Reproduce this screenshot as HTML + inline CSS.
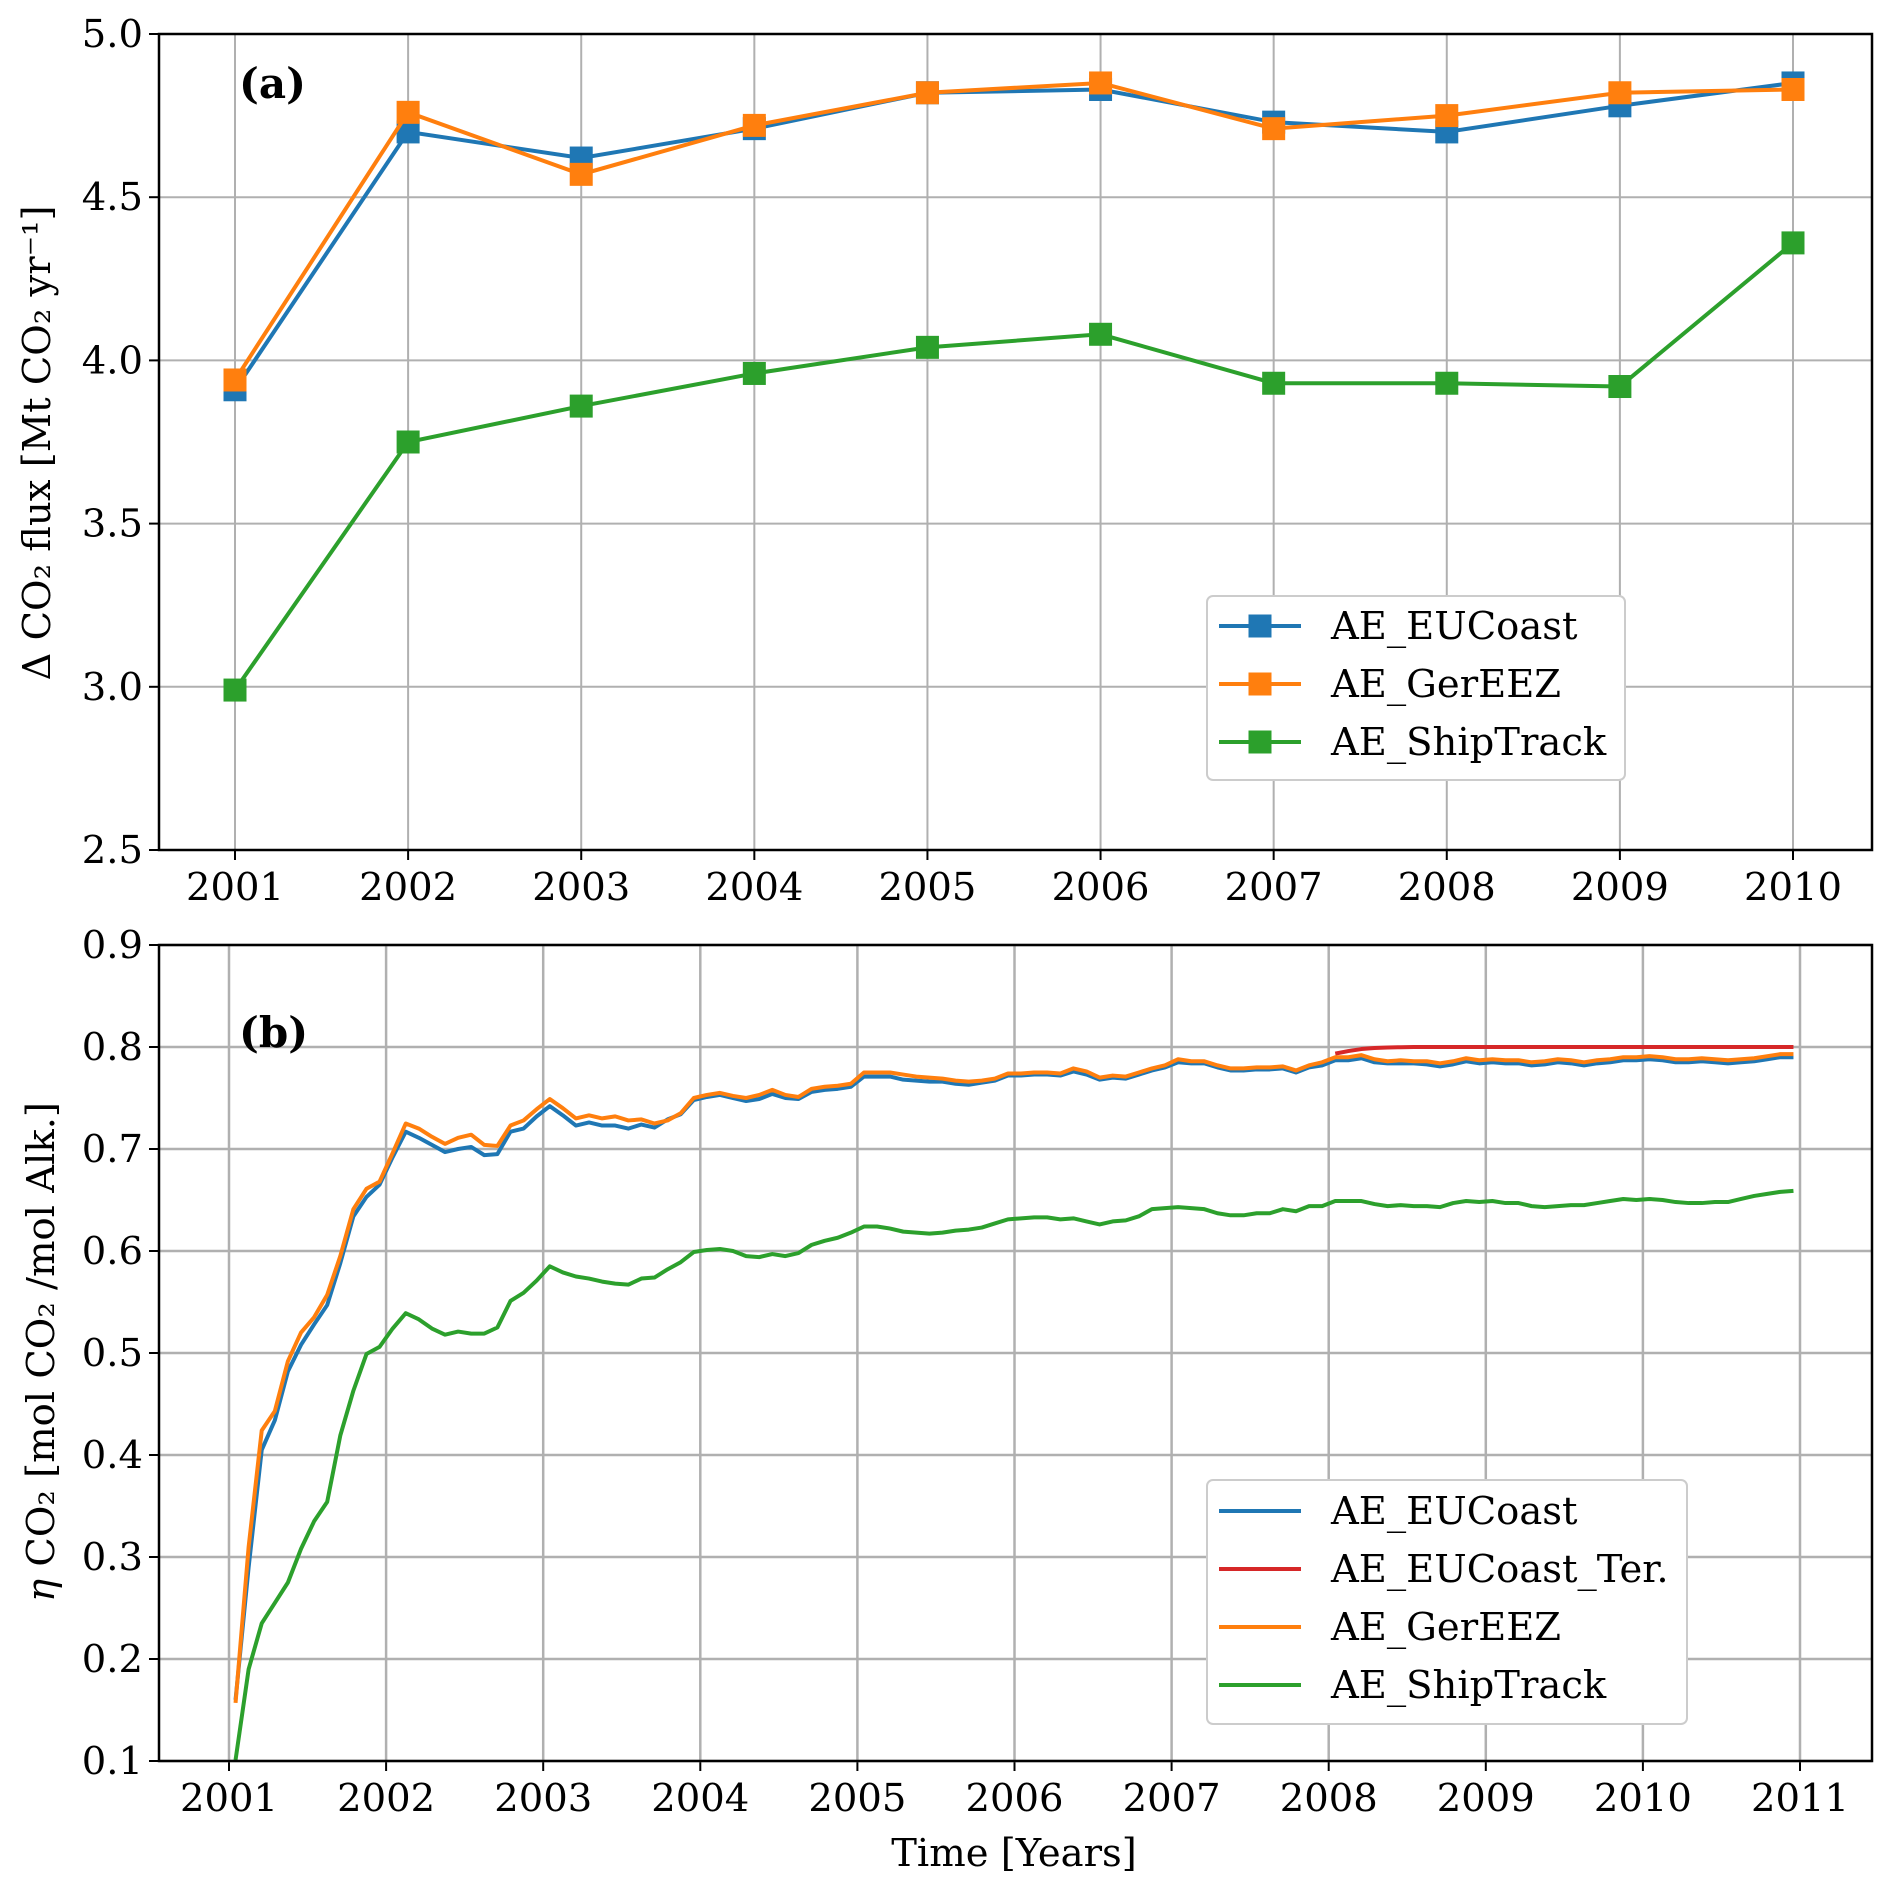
<!DOCTYPE html>
<html><head><meta charset="utf-8"><style>
html,body{margin:0;padding:0;background:#fff;}
svg{display:block;font-family:"DejaVu Serif","Liberation Serif",serif;}
</style></head><body>
<svg id="fig" width="1892" height="1887" viewBox="0 0 1892 1887" xmlns="http://www.w3.org/2000/svg">
<rect width="1892" height="1887" fill="#fff"/>
<g id="pa"></g>
<g id="pb"></g>
</svg>
<script>
// ---------- Panel (a) data ----------
const yearsA = [2001,2002,2003,2004,2005,2006,2007,2008,2009,2010];
const aEUCoast = [3.91,4.70,4.62,4.71,4.82,4.83,4.73,4.70,4.78,4.85];
const aGerEEZ = [3.94,4.76,4.57,4.72,4.82,4.85,4.71,4.75,4.82,4.83];
const aShipTrack = [2.99,3.75,3.86,3.96,4.04,4.08,3.93,3.93,3.92,4.36];
const ticksYA = ["2.5","3.0","3.5","4.0","4.5","5.0"];
const ticksXA = ["2001","2002","2003","2004","2005","2006","2007","2008","2009","2010"];
// ---------- Panel (b) data (monthly, 2001-2010) ----------
const bGerEEZ = [0.157,0.31,0.424,0.443,0.492,0.520,0.535,0.557,0.595,0.641,0.661,0.668,
0.696,0.725,0.720,0.712,0.705,0.711,0.714,0.704,0.703,0.723,0.728,0.739,
0.749,0.740,0.730,0.733,0.730,0.732,0.728,0.729,0.725,0.728,0.735,0.750,
0.753,0.755,0.752,0.750,0.753,0.758,0.753,0.751,0.759,0.761,0.762,0.764,
0.775,0.775,0.775,0.773,0.771,0.770,0.769,0.767,0.766,0.767,0.769,0.774,
0.774,0.775,0.775,0.774,0.779,0.776,0.770,0.772,0.771,0.775,0.779,0.782,
0.788,0.786,0.786,0.782,0.779,0.779,0.780,0.780,0.781,0.777,0.782,0.785,
0.790,0.790,0.792,0.788,0.786,0.787,0.786,0.786,0.784,0.786,0.789,0.787,
0.788,0.787,0.787,0.785,0.786,0.788,0.787,0.785,0.787,0.788,0.790,0.790,
0.791,0.790,0.788,0.788,0.789,0.788,0.787,0.788,0.789,0.791,0.793,0.793];
const bEUCoast = [0.16,0.29,0.405,0.434,0.482,0.508,0.528,0.547,0.588,0.634,0.653,0.665,
0.692,0.717,0.711,0.704,0.697,0.700,0.702,0.694,0.695,0.717,0.720,0.732,
0.742,0.733,0.723,0.726,0.723,0.723,0.720,0.724,0.721,0.729,0.734,0.748,
0.751,0.753,0.750,0.747,0.749,0.754,0.750,0.749,0.756,0.758,0.759,0.761,
0.771,0.771,0.771,0.768,0.767,0.766,0.766,0.764,0.763,0.765,0.767,0.772,
0.772,0.773,0.773,0.772,0.776,0.773,0.768,0.770,0.769,0.773,0.777,0.780,
0.785,0.784,0.784,0.780,0.777,0.777,0.778,0.778,0.779,0.775,0.780,0.782,
0.787,0.787,0.789,0.785,0.784,0.784,0.784,0.783,0.781,0.783,0.786,0.784,
0.785,0.784,0.784,0.782,0.783,0.785,0.784,0.782,0.784,0.785,0.787,0.787,
0.788,0.787,0.785,0.785,0.786,0.785,0.784,0.785,0.786,0.788,0.790,0.790];
const bShipTrack = [0.101,0.190,0.235,0.255,0.275,0.308,0.335,0.354,0.419,0.463,0.499,0.506,
0.524,0.539,0.533,0.524,0.518,0.521,0.519,0.519,0.525,0.551,0.559,0.571,
0.585,0.579,0.575,0.573,0.570,0.568,0.567,0.573,0.574,0.582,0.589,0.599,
0.601,0.602,0.600,0.595,0.594,0.597,0.595,0.598,0.606,0.610,0.613,0.618,
0.624,0.624,0.622,0.619,0.618,0.617,0.618,0.620,0.621,0.623,0.627,0.631,
0.632,0.633,0.633,0.631,0.632,0.629,0.626,0.629,0.630,0.634,0.641,0.642,
0.643,0.642,0.641,0.637,0.635,0.635,0.637,0.637,0.641,0.639,0.644,0.644,
0.649,0.649,0.649,0.646,0.644,0.645,0.644,0.644,0.643,0.647,0.649,0.648,
0.649,0.647,0.647,0.644,0.643,0.644,0.645,0.645,0.647,0.649,0.651,0.650,
0.651,0.650,0.648,0.647,0.647,0.648,0.648,0.651,0.654,0.656,0.658,0.659];
const bTerStart = 84;
const bEUCoastTer = [0.7935,0.796,0.798,0.799,0.7995,0.7998,0.800,0.800,0.800,0.800,0.800,0.800,
0.800,0.800,0.800,0.800,0.800,0.800,0.800,0.800,0.800,0.800,0.800,0.800,
0.800,0.800,0.800,0.800,0.800,0.800,0.800,0.800,0.800,0.800,0.800,0.800];
const ticksYB = ["0.1","0.2","0.3","0.4","0.5","0.6","0.7","0.8","0.9"];
const ticksXB = ["2001","2002","2003","2004","2005","2006","2007","2008","2009","2010","2011"];

const NS="http://www.w3.org/2000/svg";
const C={blue:"#1f77b4",orange:"#ff7f0e",green:"#2ca02c",red:"#d62728"};
const FS=38.5, LW=4;
function mk(tag,attrs,parent){const e=document.createElementNS(NS,tag);for(const k in attrs)e.setAttribute(k,attrs[k]);parent.appendChild(e);return e;}

// ---- Panel A axes ----
const A={l:159,r:1872,t:34,b:850};
const xA=v=>235+(v-2001)*(1793-235)/9;
const yA=v=>A.b-(v-2.5)*(A.b-A.t)/2.5;
const pa=document.getElementById('pa');
ticksXA.forEach(s=>{const v=+s;
 const g=mk('line',{x1:xA(v),x2:xA(v),y1:A.t,y2:A.b,stroke:"#b0b0b0","stroke-width":2},pa);
 
 
 mk('line',{x1:xA(v),x2:xA(v),y1:A.b,y2:A.b+10,stroke:"#000","stroke-width":2},pa);
 const t=mk('text',{x:xA(v),y:A.b+50,"text-anchor":"middle","font-size":FS},pa);t.textContent=s;
 
 
});
ticksYA.forEach(s=>{const v=+s;
 const g=mk('line',{x1:A.l,x2:A.r,y1:yA(v),y2:yA(v),stroke:"#b0b0b0","stroke-width":2},pa);
 
 
 mk('line',{x1:A.l-10,x2:A.l,y1:yA(v),y2:yA(v),stroke:"#000","stroke-width":2},pa);
 const t=mk('text',{x:A.l-16,y:yA(v)+13,"text-anchor":"end","font-size":FS},pa);t.textContent=s;
 
 
});
function seriesA(vals,col,name){
 const l=mk('polyline',{points:vals.map((v,i)=>xA(yearsA[i])+","+yA(v)).join(" "),fill:"none",stroke:col,"stroke-width":LW},pa);
 
 
 vals.forEach((v,i)=>{const m=mk('rect',{x:xA(yearsA[i])-11.5,y:yA(v)-11.5,width:23,height:23,fill:col},pa);
  
  });
}
seriesA(aEUCoast,C.blue,'eucoast');
seriesA(aGerEEZ,C.orange,'gereez');
seriesA(aShipTrack,C.green,'shiptrack');
mk('rect',{x:A.l,y:A.t,width:A.r-A.l,height:A.b-A.t,fill:"none",stroke:"#000","stroke-width":2.5},pa);
let t=mk('text',{x:239,y:98,"font-size":42,"font-weight":"bold"},pa);t.textContent="(a)";


t=mk('text',{x:0,y:0,"font-size":FS,"text-anchor":"middle",transform:"translate(50,443) rotate(-90)"},pa);
t.textContent="Δ CO₂ flux [Mt CO₂ yr⁻¹]";


// legend A
let lg=mk('g',{},pa);


mk('rect',{x:1207,y:596,width:418,height:184,rx:6,fill:"#fff",stroke:"#ccc","stroke-width":2},lg);
[["AE_EUCoast",C.blue],["AE_GerEEZ",C.orange],["AE_ShipTrack",C.green]].forEach((e,i)=>{
 const y=626+i*58;
 const ge=mk('g',{},lg);
 
 
 mk('line',{x1:1219,x2:1301,y1:y,y2:y,stroke:e[1],"stroke-width":LW},ge);
 mk('rect',{x:1248.5,y:y-11.5,width:23,height:23,fill:e[1]},ge);
 const tt=mk('text',{x:1331,y:y+13,"font-size":FS},ge);tt.textContent=e[0];
});

// ---- Panel B axes ----
const B={l:159,r:1872,t:945,b:1761};
const xB=v=>229+(v-2001)*(1800-229)/10;
const yB=v=>B.b-(v-0.1)*(B.b-B.t)/0.8;
const tm=i=>2001+(i+0.5)/12;
const pb=document.getElementById('pb');
ticksXB.forEach(s=>{const v=+s;
 const g=mk('line',{x1:xB(v),x2:xB(v),y1:B.t,y2:B.b,stroke:"#b0b0b0","stroke-width":2.5},pb);
 
 
 mk('line',{x1:xB(v),x2:xB(v),y1:B.b,y2:B.b+10,stroke:"#000","stroke-width":2},pb);
 const t=mk('text',{x:xB(v),y:B.b+50,"text-anchor":"middle","font-size":FS},pb);t.textContent=s;
 
 
});
ticksYB.forEach(s=>{const v=+s;
 const g=mk('line',{x1:B.l,x2:B.r,y1:yB(v),y2:yB(v),stroke:"#b0b0b0","stroke-width":2.5},pb);
 
 
 mk('line',{x1:B.l-10,x2:B.l,y1:yB(v),y2:yB(v),stroke:"#000","stroke-width":2},pb);
 const t=mk('text',{x:B.l-16,y:yB(v)+13,"text-anchor":"end","font-size":FS},pb);t.textContent=s;
 
 
});
function seriesB(vals,off,col,name){
 const l=mk('polyline',{points:vals.map((v,i)=>xB(tm(i+off))+","+yB(v)).join(" "),fill:"none",stroke:col,"stroke-width":LW,"stroke-linejoin":"round"},pb);
 
 
}
seriesB(bEUCoast,0,C.blue,'eucoast');
seriesB(bEUCoastTer,bTerStart,C.red,'eucoast-ter');
seriesB(bGerEEZ,0,C.orange,'gereez');
seriesB(bShipTrack,0,C.green,'shiptrack');
mk('rect',{x:B.l,y:B.t,width:B.r-B.l,height:B.b-B.t,fill:"none",stroke:"#000","stroke-width":2.5},pb);
t=mk('text',{x:239,y:1047,"font-size":42,"font-weight":"bold"},pb);t.textContent="(b)";


t=mk('text',{x:0,y:0,"font-size":FS,"text-anchor":"middle",transform:"translate(54,1352) rotate(-90)"},pb);
t.innerHTML='<tspan font-style="italic">η</tspan> CO₂ [mol CO₂ /mol Alk.]';


t=mk('text',{x:1014,y:1866,"font-size":FS,"text-anchor":"middle"},pb);t.textContent="Time [Years]";


lg=mk('g',{},pb);


mk('rect',{x:1207,y:1480,width:480,height:244,rx:6,fill:"#fff",stroke:"#ccc","stroke-width":2},lg);
[["AE_EUCoast",C.blue],["AE_EUCoast_Ter.",C.red],["AE_GerEEZ",C.orange],["AE_ShipTrack",C.green]].forEach((e,i)=>{
 const y=1511+i*58;
 const ge=mk('g',{},lg);
 
 
 mk('line',{x1:1219,x2:1301,y1:y,y2:y,stroke:e[1],"stroke-width":LW},ge);
 const tt=mk('text',{x:1331,y:y+13,"font-size":FS},ge);tt.textContent=e[0];
});
</script>
</body></html>
